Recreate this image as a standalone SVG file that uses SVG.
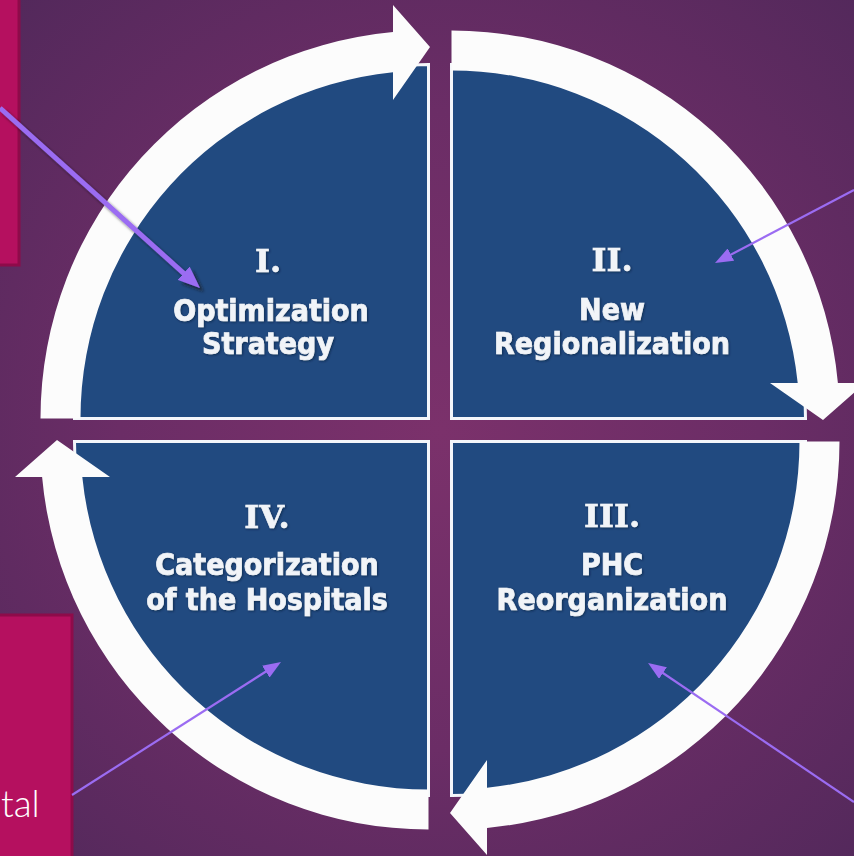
<svg xmlns="http://www.w3.org/2000/svg" width="854" height="856" viewBox="0 0 854 856">
  <defs>
    <style>
      .blue { fill: #214a80; stroke: #f4f6fa; stroke-width: 3; }
      .ring { fill: #fcfcfc; }
      .num { font-family: "DejaVu Serif", "Liberation Serif", serif; font-weight: bold; font-size: 32px; fill: #f1f4f8; stroke: #f1f4f8; stroke-width: 0.6; text-anchor: middle; }
      .lbl { font-family: "DejaVu Sans Condensed", "DejaVu Sans", Verdana, sans-serif; font-weight: bold; font-size: 30px; fill: #f1f4f8; stroke: #f1f4f8; stroke-width: 0.7; text-anchor: middle; }
      .side { fill: #b5105f; stroke: #8e0b4a; stroke-width: 3; }
      .sidetext { font-family: Lato, "Open Sans", "Liberation Sans", sans-serif; font-weight: 300; font-size: 37px; fill: #ffffff; }
      .conn { fill: none; stroke: #9b6cf2; stroke-width: 2.2; }
      .conn-thick { fill: none; stroke: #9b6cf2; stroke-width: 5; }
    </style>
    <radialGradient id="bg" gradientUnits="userSpaceOnUse" cx="440" cy="430" r="640">
      <stop offset="0" stop-color="#7b316b"/>
      <stop offset="0.5" stop-color="#6b2d66"/>
      <stop offset="1" stop-color="#50285a"/>
    </radialGradient>
    <filter id="tshadow" x="-10%" y="-30%" width="120%" height="160%">
      <feGaussianBlur in="SourceAlpha" stdDeviation="1.2"/>
      <feOffset dx="1" dy="1" result="b"/>
      <feFlood flood-color="#0a1a33" flood-opacity="0.6"/>
      <feComposite in2="b" operator="in"/>
      <feMerge><feMergeNode/><feMergeNode in="SourceGraphic"/></feMerge>
    </filter>
    <filter id="ashadow" x="-20%" y="-20%" width="140%" height="140%">
      <feGaussianBlur in="SourceAlpha" stdDeviation="1.5"/>
      <feOffset dx="4" dy="4" result="b"/>
      <feFlood flood-color="#1a1a1a" flood-opacity="0.6"/>
      <feComposite in2="b" operator="in"/>
      <feMerge><feMergeNode/><feMergeNode in="SourceGraphic"/></feMerge>
    </filter>
    <marker id="ah" markerUnits="userSpaceOnUse" viewBox="0 0 18 14" markerWidth="18" markerHeight="14" refX="9" refY="7" orient="auto">
      <path d="M0 0 L18 7 L0 14 Z" fill="#9b6cf2"/>
    </marker>
    <marker id="ahThick" markerUnits="userSpaceOnUse" viewBox="0 0 22 18" markerWidth="22" markerHeight="18" refX="11" refY="9" orient="auto">
      <path d="M0 0 L22 9 L0 18 Z" fill="#9b6cf2"/>
    </marker>
    <path id="quad" class="blue" d="M428.5 418.5 L74.5 418.5 A354 354 0 0 1 428.5 64.5 Z"/>
    <path id="ring" class="ring" d="M40.5 418.5 A388 388 0 0 1 393 32.1 L393 5 L430 47 L393 100 L393 72.3 A348 348 0 0 0 80.5 418.5 Z"/>
  </defs>

  <rect x="0" y="0" width="854" height="856" fill="url(#bg)"/>

  <g id="side-box-top">
    <rect class="side" x="-3" y="-3" width="22" height="268"/>
  </g>
  <g id="side-box-bottom">
    <rect class="side" x="-3" y="615" width="75" height="245"/>
    <text class="sidetext" x="1" y="817">tal</text>
  </g>

  <g id="node-1">
    <use href="#quad"/>
    <use href="#ring"/>
    <g filter="url(#tshadow)">
      <text class="num" x="268" y="272">I.</text>
      <text class="lbl" x="271" y="321">Optimization</text>
      <text class="lbl" x="268" y="354">Strategy</text>
    </g>
  </g>

  <g id="node-2">
    <use href="#quad" transform="rotate(90 440 430)"/>
    <use href="#ring" transform="rotate(90 440 430)"/>
    <g filter="url(#tshadow)">
      <text class="num" x="612" y="271">II.</text>
      <text class="lbl" x="612" y="320">New</text>
      <text class="lbl" x="612" y="354">Regionalization</text>
    </g>
  </g>

  <g id="node-3">
    <use href="#quad" transform="rotate(180 440 430)"/>
    <use href="#ring" transform="rotate(180 440 430)"/>
    <g filter="url(#tshadow)">
      <text class="num" x="612" y="527">III.</text>
      <text class="lbl" x="612" y="575">PHC</text>
      <text class="lbl" x="612" y="610">Reorganization</text>
    </g>
  </g>

  <g id="node-4">
    <use href="#quad" transform="rotate(270 440 430)"/>
    <use href="#ring" transform="rotate(270 440 430)"/>
    <g filter="url(#tshadow)">
      <text class="num" x="267" y="528">IV.</text>
      <text class="lbl" x="267" y="575">Categorization</text>
      <text class="lbl" x="267" y="610">of the Hospitals</text>
    </g>
  </g>

  <g id="connectors">
    <g filter="url(#ashadow)">
      <line class="conn-thick" x1="0" y1="108" x2="191.8" y2="280.6" marker-end="url(#ahThick)"/>
    </g>
    <line class="conn" x1="854" y1="190" x2="723" y2="258.8" marker-end="url(#ah)"/>
    <line class="conn" x1="72" y1="795" x2="273.4" y2="666.8" marker-end="url(#ah)"/>
    <line class="conn" x1="854" y1="802" x2="655.5" y2="668" marker-end="url(#ah)"/>
  </g>
</svg>
